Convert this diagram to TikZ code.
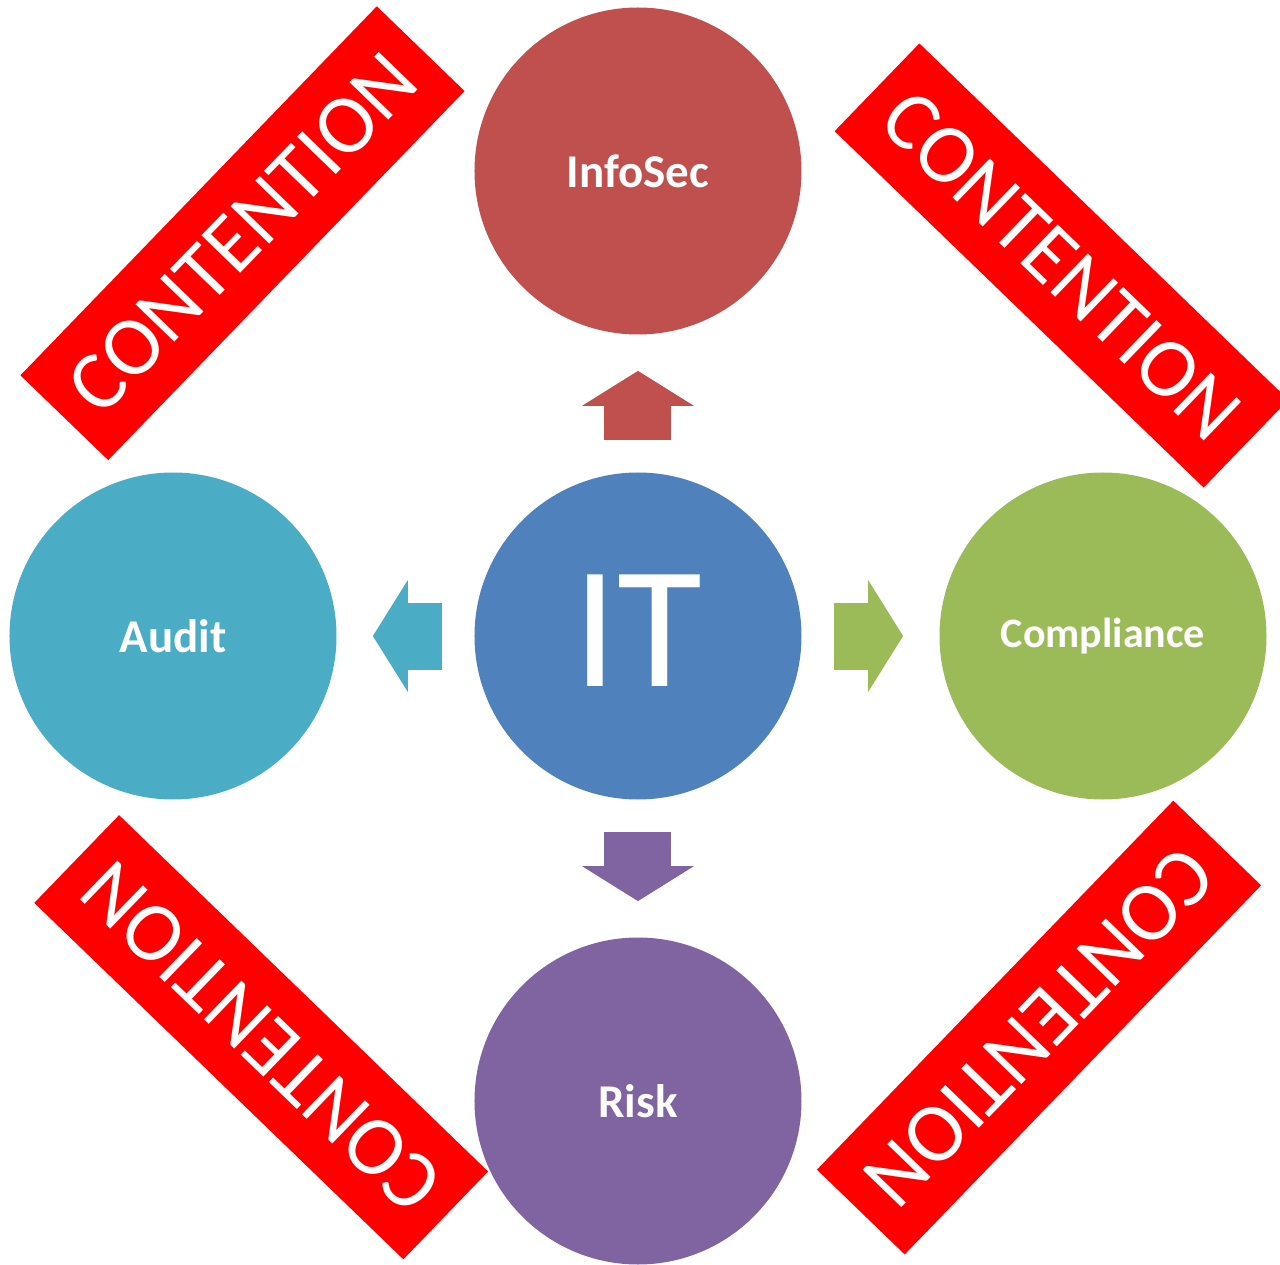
\documentclass[tikz,border=0pt]{standalone}
\usepackage{fontspec}
\setmainfont{Carlito}
\usepackage{tikz}
\usepackage{xcolor}
\usetikzlibrary{arrows.meta}
\definecolor{itblue}{HTML}{4F81BD}
\definecolor{secred}{HTML}{C0504D}
\definecolor{auditteal}{HTML}{4BACC6}
\definecolor{compgreen}{HTML}{9BBB59}
\definecolor{riskpurple}{HTML}{8064A2}
\tikzstyle{unit} = [circle, minimum size=163.5pt, inner sep=0pt, text=white, font=\bfseries\fontsize{23.5}{28}\selectfont]
\tikzstyle{contention} = [rectangle, fill=red, text=white, minimum width=256.5pt, minimum height=61pt, inner sep=0pt, font=\fontsize{42}{50}\selectfont]
\tikzstyle{flow} = [line width=33.5pt]

\begin{document}
\begin{tikzpicture}[->,>={Triangle[length=17.5pt,width=56pt,line width=0pt]},shorten >=18pt,shorten <=16pt,node distance=232.5pt]
  \useasboundingbox (-319pt,-314pt) rectangle (321pt,318pt);
  \clip (-319pt,-314pt) rectangle (321pt,318pt);
  \node[unit, fill=itblue, font=\fontsize{87}{100}\selectfont, text depth=5pt] (IT) {IT};
  \node[unit, fill=secred] (InfoSec) [above of=IT] {InfoSec};
  \node[unit, fill=auditteal] (Audit) [left of=IT] {Audit};
  \node[unit, fill=compgreen, font=\bfseries\fontsize{21}{25}\selectfont] (Compliance) [right of=IT] {Compliance};
  \node[unit, fill=riskpurple] (Risk) [below of=IT] {Risk};

  % the four banners between the circles
  \node[contention, rotate=46] (ban_tl) at (-197.75pt,201.4pt) {CONTENTION};
  \node[contention, rotate=-44] (ban_tr) at (211.75pt,185.25pt) {CONTENTION};
  \node[contention, rotate=136] (ban_bl) at (-188.4pt,-200.6pt) {CONTENTION};
  \node[contention, rotate=-134] (ban_br) at (200.5pt,-195.75pt) {CONTENTION};

  \path (IT) edge[flow, secred] (InfoSec);
  \path (IT) edge[flow, auditteal] (Audit);
  \path (IT) edge[flow, compgreen] (Compliance);
  \path (IT) edge[flow, riskpurple] (Risk);
\end{tikzpicture}
\end{document}
